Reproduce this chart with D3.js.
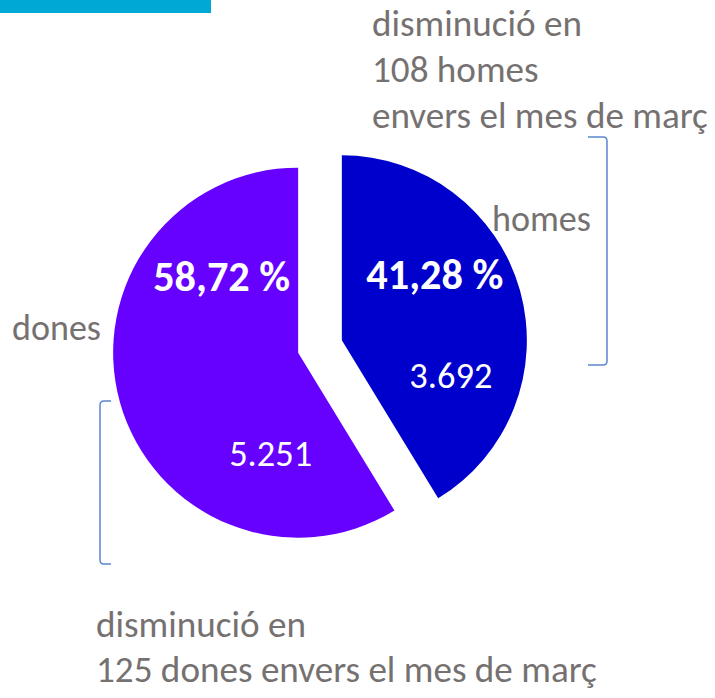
<!DOCTYPE html>
<html>
<head>
<meta charset="utf-8">
<script src="https://cdn.jsdelivr.net/npm/d3@7"></script>
<style>
  html, body { margin: 0; padding: 0; background: #fff; }
  svg { display: block; }
</style>
</head>
<body>
<svg id="chart" width="715" height="698"></svg>
<script>
// Data
const categories = ["homes", "dones"];
const counts = [3692, 5251];
const notes = [
    ["disminució en", "108 homes", "envers el mes de març"],
    ["disminució en", "125 dones envers el mes de març"]
];

const colors = ["#0000cc", "#6600ff"];
const grey = "#767171";
const fontFamily = "Carlito, Lato, 'Liberation Sans', sans-serif";

const svg = d3.select("#chart");
const cx = 320, cy = 346.5, radius = 185, explode = 22.7;

// top-left banner strip (cut off in the original)
svg.append("rect")
    .attr("x", 0).attr("y", 0)
    .attr("width", 211).attr("height", 13)
    .attr("fill", "#00a8d6");

const locale = d3.formatLocale({ decimal: ",", thousands: ".", grouping: [3], currency: ["", "€"] });
const fmtPct = locale.format(".2f");
const fmtNum = locale.format(",d");

const pie = d3.pie().sort(null).startAngle(0).endAngle(2 * Math.PI);
const arcs = pie(counts);
const total = d3.sum(counts);
const arc = d3.arc().innerRadius(0).outerRadius(radius);

// label offsets relative to each slice origin
const pctOffset = [[93, -51], [-76.5, -62]];
const numOffset = [[109, 48], [-27.5, 113]];

const slices = svg.append("g")
    .attr("transform", `translate(${cx},${cy})`)
    .selectAll("g")
    .data(arcs)
    .join("g")
    .attr("transform", d => {
        const a = (d.startAngle + d.endAngle) / 2;
        return `translate(${Math.sin(a) * explode},${-Math.cos(a) * explode})`;
    });

slices.append("path")
    .attr("d", arc)
    .attr("fill", (d, i) => colors[i]);

function fitText(sel, width) {
    const len = sel.node().getComputedTextLength();
    const fs = parseFloat(sel.attr("font-size"));
    sel.attr("font-size", fs * width / len);
}

slices.each(function (d, i) {
    const g = d3.select(this);
    const p = g.append("text")
        .attr("x", pctOffset[i][0]).attr("y", pctOffset[i][1])
        .attr("text-anchor", "middle")
        .attr("font-family", fontFamily)
        .attr("font-weight", "bold")
        .attr("font-size", 36)
        .attr("fill", "#fff")
        .text(fmtPct(d.data / total * 100) + " %");
    fitText(p, 137);
    const n = g.append("text")
        .attr("x", numOffset[i][0]).attr("y", numOffset[i][1])
        .attr("text-anchor", "middle")
        .attr("font-family", fontFamily)
        .attr("font-size", 32)
        .attr("fill", "#fff")
        .text(fmtNum(d.data));
    fitText(n, 83);
});

// category labels
const homesLabel = svg.append("text")
    .attr("x", 492).attr("y", 231)
    .attr("font-family", fontFamily).attr("font-size", 32)
    .attr("fill", grey).text(categories[0]);
fitText(homesLabel, 99);

const donesLabel = svg.append("text")
    .attr("x", 12).attr("y", 340)
    .attr("font-family", fontFamily).attr("font-size", 32)
    .attr("fill", grey).text(categories[1]);
fitText(donesLabel, 89);

// notes
const topNote = svg.append("text")
    .attr("font-family", fontFamily).attr("font-size", 32).attr("fill", grey);
topNote.selectAll("tspan").data(notes[0]).join("tspan")
    .attr("x", 372).attr("y", (d, i) => 36 + i * 46)
    .text(d => d);
const longTop = topNote.selectAll("tspan").filter((d, i) => i === 2);
const fsTop = 32 * 336 / longTop.node().getComputedTextLength();
topNote.attr("font-size", fsTop);

const botNote = svg.append("text")
    .attr("font-family", fontFamily).attr("font-size", 32).attr("fill", grey);
botNote.selectAll("tspan").data(notes[1]).join("tspan")
    .attr("x", 96).attr("y", (d, i) => 637 + i * 45)
    .text(d => d);
const longBot = botNote.selectAll("tspan").filter((d, i) => i === 1);
const fsBot = 32 * 501 / longBot.node().getComputedTextLength();
botNote.attr("font-size", fsBot);

// brackets
const bracketColor = "#5b87cf";
svg.append("path")
    .attr("d", "M588,137 H603 Q607,137 607,141 V361 Q607,365 603,365 H588")
    .attr("fill", "none").attr("stroke", bracketColor).attr("stroke-width", 1.5);
svg.append("path")
    .attr("d", "M111,401 H104 Q100,401 100,405 V560 Q100,564 104,564 H111")
    .attr("fill", "none").attr("stroke", bracketColor).attr("stroke-width", 1.5);
</script>
</body>
</html>
